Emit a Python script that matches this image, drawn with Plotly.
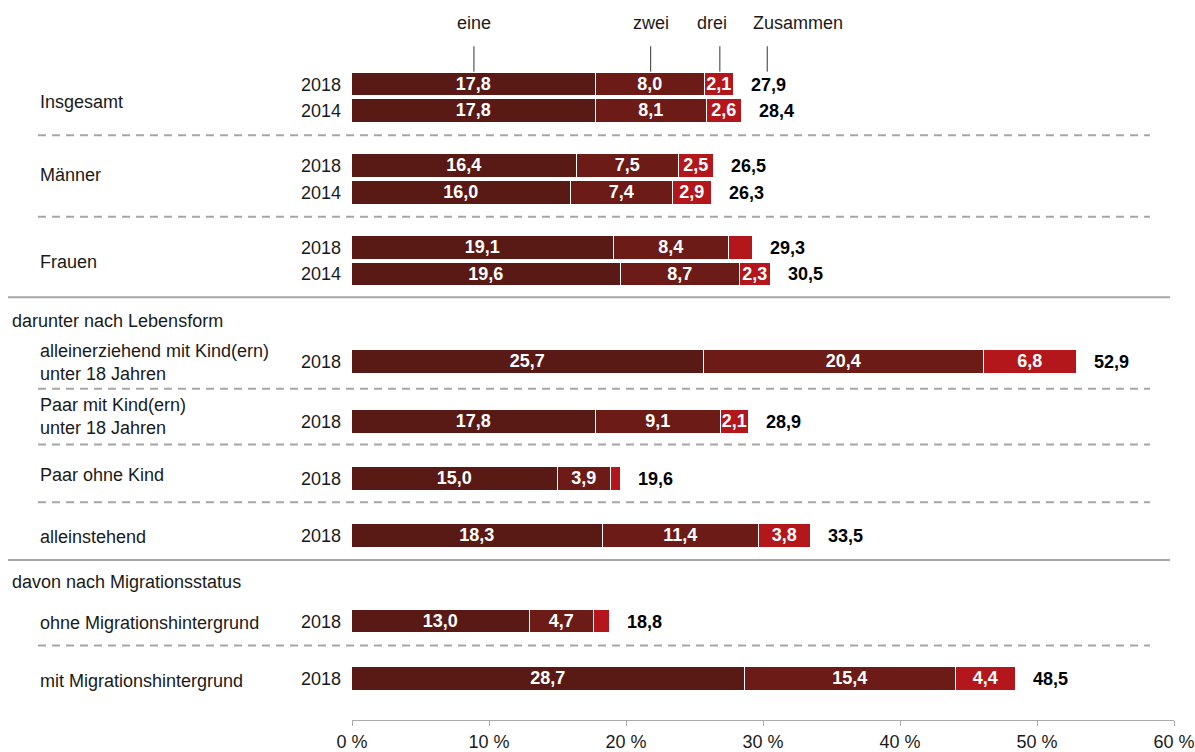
import plotly.graph_objects as go

# ---------------- data ----------------
groups = ["Insgesamt", "Insgesamt", "Männer", "Männer", "Frauen", "Frauen",
          "alleinerziehend mit Kind(ern)<br>unter 18 Jahren",
          "Paar mit Kind(ern)<br>unter 18 Jahren",
          "Paar ohne Kind", "alleinstehend",
          "ohne Migrationshintergrund", "mit Migrationshintergrund"]
years = ["2018", "2014", "2018", "2014", "2018", "2014",
         "2018", "2018", "2018", "2018", "2018", "2018"]
eine = [17.8, 17.8, 16.4, 16.0, 19.1, 19.6, 25.7, 17.8, 15.0, 18.3, 13.0, 28.7]
zwei = [8.0, 8.1, 7.5, 7.4, 8.4, 8.7, 20.4, 9.1, 3.9, 11.4, 4.7, 15.4]
drei = [2.1, 2.6, 2.5, 2.9, 1.8, 2.3, 6.8, 2.1, 0.7, 3.8, 1.1, 4.4]
zusammen = [27.9, 28.4, 26.5, 26.3, 29.3, 30.5, 52.9, 28.9, 19.6, 33.5, 18.8, 48.5]
series_names = ["eine", "zwei", "drei"]
total_name = "Zusammen"
x_ticks = [0, 10, 20, 30, 40, 50, 60]
x_ticktext = ["0 %", "10 %", "20 %", "30 %", "40 %", "50 %", "60 %"]
section_titles = ["darunter nach Lebensform", "davon nach Migrationsstatus"]

# ---------------- layout (pixel positions) ----------------
W, H = 1195, 752
PL, PR = 352, 1174          # plot area left/right in px
PB = 724                     # axis line y
row_y = [85, 112, 167, 194, 249, 276, 364, 424, 482, 539, 625, 683]
group_label_y = [102.5, 175.5, 263.5, 365, 419, 478, 540, 626, 685]
dashed_y = [136, 218, 391, 447, 505, 649]
solid_y = [299, 563]
section_y = [323, 585]
colors = ["#591a15", "#6c1b17", "#b3161b"]

TXT = "#1a1a1a"
FONT = "Liberation Sans, Arial, sans-serif"
BOLDNUM = dict(size=18, family=FONT, weight="bold")


def px2paper(px):
    return (px - PL) / (PR - PL)


def fmt(v):
    return f"{v:.1f}".replace(".", ",")


fig = go.Figure()
for name, vals, col in zip(series_names, [eine, zwei, drei], colors):
    fig.add_trace(go.Bar(
        x=vals, y=row_y, orientation="h", name=name, width=24,
        marker=dict(color=col, line=dict(color="white", width=1.5)),
        text=[fmt(v) if v >= 2.0 else "" for v in vals],
        textposition="inside", insidetextanchor="middle", textangle=0,
        textfont=dict(color="white", **BOLDNUM),
        hoverinfo="skip", showlegend=False,
    ))

ann = []
shapes = []

# totals and years
for i, t in enumerate(zusammen):
    end = eine[i] + zwei[i] + drei[i]
    ann.append(dict(x=end, y=row_y[i], xref="x", yref="y", text=fmt(t),
                    xanchor="left", yanchor="middle", xshift=15, showarrow=False,
                    font=dict(color="black", **BOLDNUM)))
    ann.append(dict(x=0, y=row_y[i], xref="x", yref="y", text=years[i],
                    xanchor="right", yanchor="middle", xshift=-9, showarrow=False,
                    font=dict(size=18, color=TXT, family=FONT)))

# group labels
unique_groups = list(dict.fromkeys(groups))
for g, y in zip(unique_groups, group_label_y):
    ann.append(dict(x=px2paper(38), y=y, xref="paper", yref="y", text=g,
                    xanchor="left", yanchor="middle", align="left", showarrow=False,
                    font=dict(size=18, color=TXT, family=FONT)))

for t, y in zip(section_titles, section_y):
    ann.append(dict(x=px2paper(10), y=y, xref="paper", yref="y", text=t,
                    xanchor="left", yanchor="middle", showarrow=False,
                    font=dict(size=18, color=TXT, family=FONT)))

# header labels with leader lines (positioned on first row)
head_x = [eine[0] / 2, eine[0] + zwei[0] / 2, eine[0] + zwei[0] + drei[0] / 2,
          eine[0] + zwei[0] + drei[0]]
line_shift = [0, 0, 0, 33]
text_shift = [0, 0, -8, 17]
anchors = ["center", "center", "center", "left"]
for name, hx, ls, ts, an in zip(series_names + [total_name], head_x, line_shift, text_shift, anchors):
    ann.append(dict(x=hx, y=23, xref="x", yref="y", text=name, xshift=ts,
                    xanchor=an, yanchor="middle", showarrow=False,
                    font=dict(size=18, color=TXT, family=FONT)))
    ann.append(dict(x=hx, y=72, ax=hx, ay=45, xref="x", yref="y", axref="x", ayref="y",
                    text="", showarrow=True, arrowhead=0, arrowwidth=1, arrowcolor="#333",
                    xshift=ls))

for y in dashed_y:
    shapes.append(dict(type="line", xref="paper", yref="y", x0=px2paper(38), x1=px2paper(1150),
                       y0=y, y1=y, line=dict(color="#a6a6a6", width=2, dash="8px,6px")))
for y in solid_y:
    shapes.append(dict(type="line", xref="paper", yref="y", x0=px2paper(8), x1=px2paper(1170),
                       y0=y, y1=y, line=dict(color="#a6a6a6", width=2)))

fig.update_layout(
    width=W, height=H, barmode="stack", bargap=0,
    margin=dict(l=PL, r=W - PR, t=0, b=H - PB, pad=0),
    paper_bgcolor="white", plot_bgcolor="white",
    font=dict(family=FONT, color=TXT, size=18),
    uniformtext=dict(minsize=18, mode="show"),
    xaxis=dict(range=[0, 60], tickvals=x_ticks, ticktext=x_ticktext, showgrid=False,
               zeroline=False, showline=True, linecolor="#aaaaaa", linewidth=1,
               ticks="outside", ticklen=5, tickcolor="#aaaaaa", tickwidth=1,
               tickfont=dict(size=18, color=TXT, family=FONT), fixedrange=True),
    yaxis=dict(range=[PB, 0], visible=False, fixedrange=True),
    annotations=ann, shapes=shapes,
)

fig.write_html("out.html", config={"displayModeBar": False},
               post_script="document.body.style.margin='0';document.body.style.overflow='hidden';")
